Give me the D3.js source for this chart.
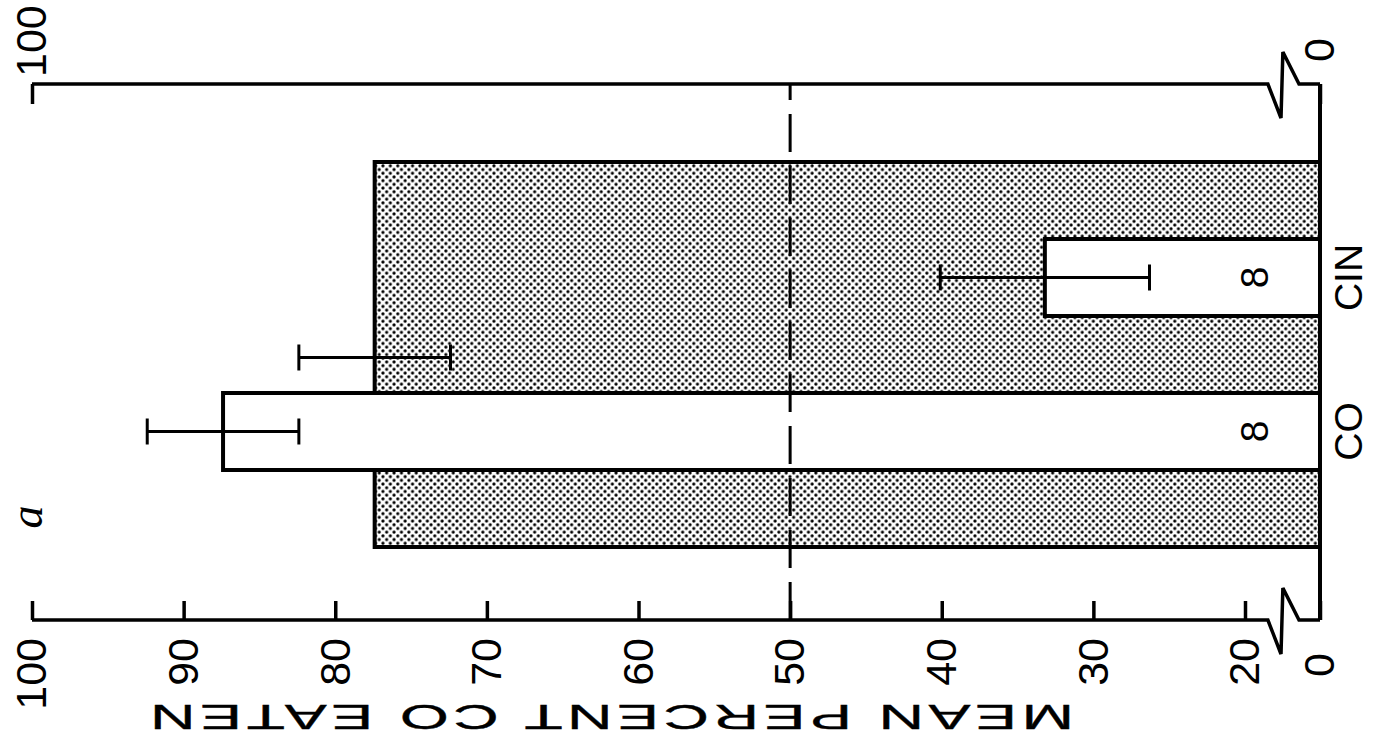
<!DOCTYPE html>
<html>
<head>
<meta charset="utf-8">
<script src="https://cdn.jsdelivr.net/npm/d3@7"></script>
<style>
body { margin: 0; background: #fff; }
</style>
</head>
<body>
<script>
let width = 1378;
let height = 756;

// Values (the printed chart is turned 90 deg counter-clockwise)
let categories = ["CO", "CIN"];
let means = [87.4, 33.2];
let errors = [5.0, 6.9];
let sampleSizes = [8, 8];
let shadedMean = 77.4;
let shadedError = 5.0;
let tickValues = [0, 20, 30, 40, 50, 60, 70, 80, 90, 100];
let rightTicks = [0, 100];
let refValue = 50;
let breakValues = [13.9, 10.4, 9.9, 5.6];

let font = "'Liberation Sans', Arial, sans-serif";

// frame of the upright drawing: u across, v down
let plot = { left: 136, right: 672 };

let yScale = d3.scaleLinear()
	.domain([0, 20, 100])
	.range([1320, 1245, 32]);

let xScale = d3.scaleBand()
	.domain(categories)
	.range([286, 517])
	.paddingInner(0.5)
	.paddingOuter(0);

let svg = d3.select("body")
	.append("svg")
		.attr("width", width)
		.attr("height", height);

// dotted screen for the shaded block
let pat = svg.append("defs").append("pattern")
	.attr("id", "stipple")
	.attr("patternUnits", "userSpaceOnUse")
	.attr("width", 7.4)
	.attr("height", 7.4);
pat.append("circle").attr("cx", 1.85).attr("cy", 1.85).attr("r", 1.6).attr("fill", "#000");
pat.append("circle").attr("cx", 5.55).attr("cy", 5.55).attr("r", 1.6).attr("fill", "#000");

// whole chart drawn upright, then turned
let g = svg.append("g")
	.attr("transform", "translate(0," + height + ") rotate(-90)");

let step = xScale.step();
let shadeX0 = xScale.range()[0] - step / 2;
let shadeX1 = xScale.range()[1] + step / 2;

// shaded block
g.append("rect")
	.attr("x", shadeX0)
	.attr("y", yScale(shadedMean))
	.attr("width", shadeX1 - shadeX0)
	.attr("height", yScale(0) - yScale(shadedMean))
	.attr("fill", "url(#stipple)")
	.attr("stroke", "#000")
	.attr("stroke-width", 4);

let data = categories.map((c, i) => ({ cat: c, mean: means[i], err: errors[i], n: sampleSizes[i] }));

// white bars
g.selectAll("rect.bar")
	.data(data)
	.enter().append("rect")
	.attr("class", "bar")
	.attr("x", d => xScale(d.cat))
	.attr("y", d => yScale(d.mean))
	.attr("width", xScale.bandwidth())
	.attr("height", d => yScale(0) - yScale(d.mean))
	.attr("fill", "#fff")
	.attr("stroke", "#000")
	.attr("stroke-width", 4);

// error bars
function errorBar(cx, mean, err) {
	let cap = 13;
	let eb = g.append("g").attr("stroke", "#000").attr("stroke-width", 3);
	eb.append("line").attr("x1", cx).attr("x2", cx).attr("y1", yScale(mean - err)).attr("y2", yScale(mean + err));
	eb.append("line").attr("x1", cx - cap).attr("x2", cx + cap).attr("y1", yScale(mean - err)).attr("y2", yScale(mean - err));
	eb.append("line").attr("x1", cx - cap).attr("x2", cx + cap).attr("y1", yScale(mean + err)).attr("y2", yScale(mean + err));
}
errorBar((shadeX0 + shadeX1) / 2 - 3, shadedMean, shadedError);
data.forEach(d => errorBar(xScale(d.cat) + xScale.bandwidth() / 2, d.mean, d.err));

// n labels
g.selectAll("text.n")
	.data(data)
	.enter().append("text")
	.attr("class", "n")
	.attr("x", d => xScale(d.cat) + xScale.bandwidth() / 2)
	.attr("y", yScale(0) - 52)
	.attr("text-anchor", "middle")
	.attr("font-family", font)
	.attr("font-size", 39)
	.text(d => d.n);

// 50% reference line
g.append("line")
	.attr("x1", plot.left)
	.attr("x2", plot.right)
	.attr("y1", yScale(refValue))
	.attr("y2", yScale(refValue))
	.attr("stroke", "#000")
	.attr("stroke-width", 3)
	.attr("stroke-dasharray", "38,14");

// axis lines with a break near zero
function brokenAxis(u) {
	let pts = [
		[u, yScale(100)],
		[u, yScale(breakValues[0])],
		[u - 34, yScale(breakValues[1])],
		[u + 32, yScale(breakValues[2])],
		[u, yScale(breakValues[3])],
		[u, yScale(0)]
	];
	g.append("path")
		.attr("d", d3.line()(pts))
		.attr("fill", "none")
		.attr("stroke", "#000")
		.attr("stroke-width", 3.5)
		.attr("stroke-linejoin", "miter");
}
brokenAxis(plot.left);
brokenAxis(plot.right);

// baseline
g.append("line")
	.attr("x1", plot.left)
	.attr("x2", plot.right)
	.attr("y1", yScale(0))
	.attr("y2", yScale(0))
	.attr("stroke", "#000")
	.attr("stroke-width", 4);

// left value axis
let leftAxis = g.append("g")
	.attr("transform", "translate(" + plot.left + ",0)")
	.call(d3.axisLeft(yScale).tickValues(tickValues).tickSize(-19).tickPadding(18).tickFormat(d3.format("d")));
leftAxis.select(".domain").remove();
leftAxis.attr("font-family", font).attr("font-size", 43);
leftAxis.selectAll("line").attr("stroke-width", 3.5);
leftAxis.selectAll(".tick").filter(d => d === 0).select("text").attr("x", -33);

// right value axis
let rightAxis = g.append("g")
	.attr("transform", "translate(" + plot.right + ",0)")
	.call(d3.axisRight(yScale).tickValues(rightTicks).tickSize(-20).tickPadding(7).tickFormat(d3.format("d")));
rightAxis.select(".domain").remove();
rightAxis.attr("font-family", font).attr("font-size", 43);
rightAxis.selectAll("line").attr("stroke-width", 3.5);
rightAxis.selectAll(".tick").filter(d => d === 0).select("text").attr("x", 22);

// category axis
let catAxis = g.append("g")
	.attr("transform", "translate(0," + yScale(0) + ")")
	.call(d3.axisBottom(xScale).tickSize(0).tickPadding(14));
catAxis.select(".domain").remove();
catAxis.attr("font-family", font).attr("font-size", 39);

// value axis title
g.append("text")
	.attr("transform", "translate(51,612) rotate(-90) scale(1.75,1)")
	.attr("text-anchor", "middle")
	.attr("font-family", font)
	.attr("font-size", 36)
	.attr("stroke", "#000")
	.attr("stroke-width", 0.35)
	.attr("textLength", 528)
	.attr("lengthAdjust", "spacing")
	.text("MEAN PERCENT CO EATEN");

// panel letter
g.append("text")
	.attr("x", 239)
	.attr("y", 42)
	.attr("text-anchor", "middle")
	.attr("font-family", "'Liberation Serif', serif")
	.attr("font-style", "italic")
	.attr("font-size", 46)
	.text("a");
</script>
</body>
</html>
